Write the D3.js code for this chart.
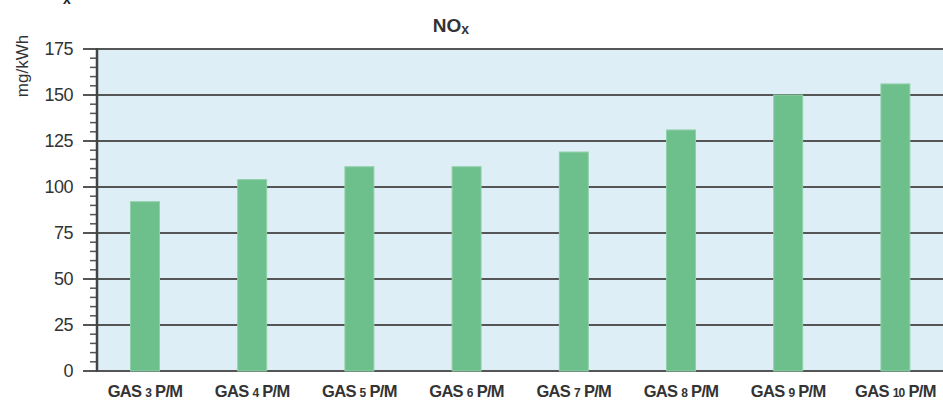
<!DOCTYPE html>
<html>
<head>
<meta charset="utf-8">
<script src="https://cdn.jsdelivr.net/npm/d3@7"></script>
<style>
  body { margin: 0; background: #fff; }
  text { font-family: "Liberation Sans", Arial, sans-serif; }
</style>
</head>
<body>
<svg id="chart"></svg>
<script>
// chart data
var units = ["3", "4", "5", "6", "7", "8", "9", "10"];
var noxValues = [92, 104, 111, 111, 119, 131, 150, 156];
var yTicks = [0, 25, 50, 75, 100, 125, 150, 175];

var width = 943, height = 401;
var margin = { top: 49, right: 0, bottom: 30, left: 97 };

var svg = d3.select("#chart")
    .attr("width", width)
    .attr("height", height);

var y = d3.scaleLinear()
    .domain([0, 175])
    .range([height - margin.bottom, margin.top]);

var x = d3.scaleBand()
    .domain(units)
    .range([91.4, 949])
    .paddingInner(0.73)
    .paddingOuter(0.365);

// plot background
svg.append("rect")
    .attr("x", margin.left)
    .attr("y", y(175))
    .attr("width", width - margin.left)
    .attr("height", y(0) - y(175))
    .style("fill", "#deeef7");

// gridlines + major ticks
svg.selectAll(".grid")
    .data(yTicks)
    .enter().append("line")
    .attr("class", "grid")
    .attr("x1", 83)
    .attr("x2", width)
    .attr("y1", function (d) { return y(d); })
    .attr("y2", function (d) { return y(d); })
    .style("stroke", "#555")
    .style("stroke-width", 2);

// minor ticks every 5
var minor = d3.range(0, 176, 5).filter(function (d) { return d % 25 !== 0; });
svg.selectAll(".minor")
    .data(minor)
    .enter().append("line")
    .attr("x1", 90)
    .attr("x2", margin.left)
    .attr("y1", function (d) { return y(d); })
    .attr("y2", function (d) { return y(d); })
    .style("stroke", "#555")
    .style("stroke-width", 1.5);

// bars
svg.selectAll(".bar")
    .data(noxValues)
    .enter().append("rect")
    .attr("class", "bar")
    .attr("x", function (d, i) { return x(units[i]); })
    .attr("width", x.bandwidth())
    .attr("y", function (d) { return y(d); })
    .attr("height", function (d) { return y(0) - y(d); })
    .style("fill", "#6dbf8b")
    .style("stroke", "#8fd0a8")
    .style("stroke-width", 1);

// y axis line
svg.append("line")
    .attr("x1", margin.left).attr("x2", margin.left)
    .attr("y1", y(175) - 1).attr("y2", y(0) + 1)
    .style("stroke", "#444")
    .style("stroke-width", 2.5);

// y tick labels
svg.selectAll(".ylab")
    .data(yTicks)
    .enter().append("text")
    .attr("x", 73)
    .attr("y", function (d) { return y(d) + 6; })
    .attr("text-anchor", "end")
    .style("font-size", "18px")
    .style("letter-spacing", "-0.5px")
    .style("fill", "#333")
    .text(function (d) { return d; });

// y axis title
svg.append("text")
    .attr("transform", "translate(28,66) rotate(-90)")
    .attr("text-anchor", "middle")
    .style("font-size", "17px")
    .style("fill", "#333")
    .text("mg/kWh");

// x labels
var xl = svg.selectAll(".xlab")
    .data(units)
    .enter().append("text")
    .attr("x", function (d) { return x(d) + x.bandwidth() / 2; })
    .attr("y", 397)
    .attr("text-anchor", "middle")
    .style("font-size", "16.5px")
    .style("font-weight", "bold")
    .style("fill", "#333")
    .style("letter-spacing", "-0.7px");
xl.append("tspan").text("GAS ");
xl.append("tspan").style("font-size", "12px").text(function (d) { return d; });
xl.append("tspan").text(" P/M");

// title
var title = svg.append("text")
    .attr("x", 451)
    .attr("y", 32)
    .attr("text-anchor", "middle")
    .style("font-size", "19px")
    .style("font-weight", "bold")
    .style("fill", "#333");
title.append("tspan").text("NO");
title.append("tspan").style("font-size", "14px").attr("dy", 2).text("x");

// clipped subscript from the page above
svg.append("text")
    .attr("x", 63)
    .attr("y", 4)
    .style("font-size", "14px")
    .style("font-weight", "bold")
    .style("fill", "#222")
    .text("x");
</script>
</body>
</html>
